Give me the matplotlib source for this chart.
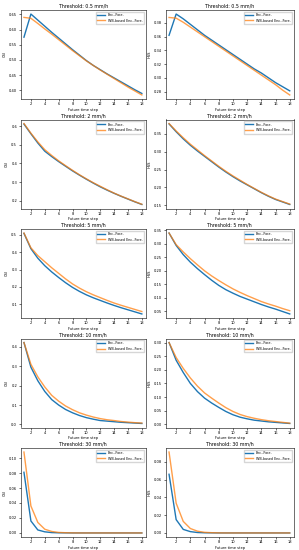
import numpy as np
import matplotlib
matplotlib.use('Agg')
import matplotlib.pyplot as plt

steps = list(range(1, 19))
thresholds = ['0.5', '2', '5', '10', '30']

# CSI, Enc.-Fore. / WB-based Enc.-Fore.
csi_enc = [
    [0.575, 0.651, 0.631, 0.611, 0.591, 0.572, 0.553, 0.534, 0.516, 0.498, 0.482, 0.468, 0.454, 0.441, 0.428, 0.415, 0.402, 0.390],
    [0.612, 0.560, 0.510, 0.466, 0.437, 0.410, 0.385, 0.360, 0.337, 0.315, 0.294, 0.274, 0.256, 0.239, 0.223, 0.208, 0.193, 0.179],
    [0.508, 0.420, 0.365, 0.322, 0.286, 0.254, 0.224, 0.197, 0.174, 0.154, 0.137, 0.122, 0.107, 0.093, 0.080, 0.068, 0.056, 0.044],
    [0.422, 0.295, 0.225, 0.170, 0.128, 0.100, 0.077, 0.060, 0.046, 0.035, 0.027, 0.020, 0.017, 0.014, 0.011, 0.009, 0.007, 0.005],
    [0.081, 0.016, 0.004, 0.0015, 0.0005, 0.0002, 0.0001, 0.0, 0.0, 0.0, 0.0, 0.0, 0.0, 0.0, 0.0, 0.0, 0.0, 0.0],
]
csi_wb = [
    [0.640, 0.637, 0.620, 0.602, 0.585, 0.567, 0.549, 0.531, 0.514, 0.497, 0.482, 0.467, 0.453, 0.439, 0.425, 0.411, 0.398, 0.385],
    [0.615, 0.563, 0.516, 0.474, 0.443, 0.414, 0.388, 0.363, 0.339, 0.317, 0.296, 0.277, 0.258, 0.240, 0.224, 0.209, 0.194, 0.180],
    [0.510, 0.425, 0.380, 0.345, 0.310, 0.278, 0.246, 0.217, 0.193, 0.172, 0.154, 0.138, 0.122, 0.107, 0.094, 0.082, 0.070, 0.058],
    [0.422, 0.310, 0.245, 0.193, 0.150, 0.120, 0.095, 0.076, 0.060, 0.048, 0.038, 0.030, 0.024, 0.020, 0.015, 0.012, 0.009, 0.007],
    [0.108, 0.036, 0.014, 0.005, 0.002, 0.0007, 0.0003, 0.0001, 0.0, 0.0, 0.0, 0.0, 0.0, 0.0, 0.0, 0.0, 0.0, 0.0],
]
# HSS
hss_enc = [
    [0.362, 0.393, 0.386, 0.378, 0.370, 0.362, 0.355, 0.348, 0.341, 0.334, 0.327, 0.320, 0.313, 0.307, 0.300, 0.293, 0.287, 0.281],
    [0.378, 0.356, 0.336, 0.318, 0.302, 0.287, 0.272, 0.257, 0.243, 0.230, 0.218, 0.207, 0.196, 0.185, 0.175, 0.166, 0.159, 0.152],
    [0.340, 0.294, 0.260, 0.232, 0.208, 0.186, 0.165, 0.146, 0.130, 0.117, 0.105, 0.095, 0.085, 0.075, 0.066, 0.058, 0.049, 0.040],
    [0.300, 0.235, 0.190, 0.150, 0.120, 0.096, 0.078, 0.062, 0.047, 0.035, 0.026, 0.020, 0.015, 0.012, 0.009, 0.007, 0.005, 0.003],
    [0.066, 0.015, 0.004, 0.0015, 0.0005, 0.0002, 0.0001, 0.0, 0.0, 0.0, 0.0, 0.0, 0.0, 0.0, 0.0, 0.0, 0.0, 0.0],
]
hss_wb = [
    [0.388, 0.387, 0.381, 0.374, 0.367, 0.360, 0.353, 0.346, 0.339, 0.332, 0.325, 0.318, 0.311, 0.304, 0.297, 0.290, 0.282, 0.275],
    [0.379, 0.358, 0.339, 0.321, 0.305, 0.289, 0.274, 0.259, 0.245, 0.232, 0.220, 0.208, 0.197, 0.186, 0.176, 0.167, 0.160, 0.153],
    [0.340, 0.297, 0.270, 0.245, 0.222, 0.200, 0.181, 0.164, 0.148, 0.133, 0.120, 0.108, 0.097, 0.086, 0.077, 0.069, 0.060, 0.052],
    [0.300, 0.245, 0.205, 0.170, 0.140, 0.115, 0.096, 0.078, 0.061, 0.047, 0.036, 0.028, 0.022, 0.017, 0.013, 0.010, 0.007, 0.004],
    [0.091, 0.0335, 0.013, 0.005, 0.002, 0.0007, 0.0003, 0.0001, 0.0, 0.0, 0.0, 0.0, 0.0, 0.0, 0.0, 0.0, 0.0, 0.0],
]

plt.rcParams['font.size'] = 2.6
plt.rcParams['axes.linewidth'] = 0.4
plt.rcParams['xtick.major.width'] = 0.4
plt.rcParams['ytick.major.width'] = 0.4
plt.rcParams['xtick.major.size'] = 1.5
plt.rcParams['ytick.major.size'] = 1.5
plt.rcParams['xtick.major.pad'] = 1
plt.rcParams['ytick.major.pad'] = 1

W, H = 299, 550
fig = plt.figure(figsize=(W / 100, H / 100), dpi=100)

col_x = [(20.5, 146), (165.5, 294)]
row_top = 10
row_h = 89
row_pitch = 109.5

for i, th in enumerate(thresholds):
    for j, (name, enc, wb) in enumerate([('CSI', csi_enc, csi_wb), ('HSS', hss_enc, hss_wb)]):
        x0, x1 = col_x[j]
        top = row_top + i * row_pitch
        ax = fig.add_axes([x0 / W, 1 - (top + row_h) / H, (x1 - x0) / W, row_h / H])
        ax.plot(steps, enc[i], color='tab:blue', lw=1.0, label='Enc.-Fore.')
        ax.plot(steps, wb[i], color='tab:orange', lw=1.0, alpha=0.75, label='WB-based Enc.-Fore.')
        ax.set_title('Threshold: ' + th + ' mm/h', fontsize=3.4, pad=1.5)
        ax.set_ylabel(name, labelpad=1.5)
        ax.set_xlabel('Future time step', labelpad=0.8)
        ax.set_xticks(range(2, 19, 2))
        ax.set_xlim(0.5, 18.6)
        ax.legend(loc='upper right', fontsize=2.4, frameon=True, handlelength=2.5)

fig.savefig('out.png', dpi=100)
